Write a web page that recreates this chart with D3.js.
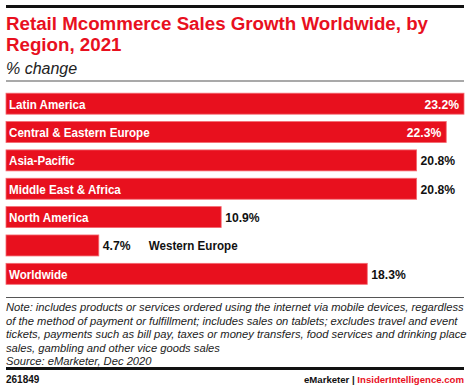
<!doctype html>
<html>
<head>
<script src="https://d3js.org/d3.v7.min.js"></script>
<style>
  body { margin: 0; background: #fff; }
  svg text { font-family: "Liberation Sans", Arial, sans-serif; }
</style>
</head>
<body>
<script>
  const regions = ["Latin America", "Central & Eastern Europe", "Asia-Pacific",
                   "Middle East & Africa", "North America", "Western Europe", "Worldwide"];
  const growth = [23.2, 22.3, 20.8, 20.8, 10.9, 4.7, 18.3];
  const noteLines = [
    "Note: includes products or services ordered using the internet via mobile devices, regardless",
    "of the method of payment or fulfillment; includes sales on tablets; excludes travel and event",
    "tickets, payments such as bill pay, taxes or money transfers, food services and drinking place",
    "sales, gambling and other vice goods sales",
    "Source: eMarketer, Dec 2020"
  ];

  const W = 470, H = 388, red = "#e8101e";
  const svg = d3.select("body").append("svg").attr("width", W).attr("height", H);

  // squeeze text horizontally a bit, the original font is narrower than Arial
  function condense(sel, k) {
    sel.each(function () {
      const w = this.getComputedTextLength();
      d3.select(this).attr("textLength", w * k).attr("lengthAdjust", "spacingAndGlyphs");
    });
  }

  // header
  svg.append("rect").attr("x", 6).attr("y", 5).attr("width", 458).attr("height", 3).attr("fill", "#111");
  const t1 = svg.append("text").attr("x", 6).attr("y", 30).attr("fill", red)
     .attr("font-size", 18).attr("font-weight", "bold").text("Retail Mcommerce Sales Growth Worldwide, by");
  const t2 = svg.append("text").attr("x", 6).attr("y", 51).attr("fill", red)
     .attr("font-size", 18).attr("font-weight", "bold").text("Region, 2021");
  condense(t1, 1.04); condense(t2, 1.04);
  svg.append("text").attr("x", 6).attr("y", 74).attr("fill", "#222")
     .attr("font-size", 16).attr("font-style", "italic").text("% change");
  svg.append("rect").attr("x", 6).attr("y", 80.5).attr("width", 458).attr("height", 1).attr("fill", "#555");

  // bars
  const x = d3.scaleLinear().domain([0, 23.2]).range([6, 464]);
  const y = d3.scaleBand().domain(regions).range([89.5, 288]).paddingInner(0.26).paddingOuter(0.13);

  const data = regions.map((r, i) => ({ r, v: growth[i] }));
  const g = svg.selectAll("g.bar").data(data).enter().append("g").attr("class", "bar");

  g.append("rect")
   .attr("x", x(0)).attr("y", d => y(d.r))
   .attr("width", d => x(d.v) - x(0)).attr("height", y.bandwidth())
   .attr("fill", red).attr("stroke", "#f46a72").attr("stroke-width", 0.8);

  const labelFits = d => d.v > 6;
  g.append("text")
   .attr("x", d => labelFits(d) ? 9 : x(d.v) + 50)
   .attr("y", d => y(d.r) + y.bandwidth() / 2).attr("dy", "0.36em")
   .attr("font-size", 13.5).attr("font-weight", "bold")
   .attr("fill", d => labelFits(d) ? "#fff" : "#111")
   .text(d => d.r)
   .call(condense, 0.86);

  const inside = d => d.v > 22;
  g.append("text")
   .attr("x", d => inside(d) ? x(d.v) - 5 : x(d.v) + 4)
   .attr("y", d => y(d.r) + y.bandwidth() / 2).attr("dy", "0.36em")
   .attr("text-anchor", d => inside(d) ? "end" : "start")
   .attr("font-size", 13.5).attr("font-weight", "bold")
   .attr("fill", d => inside(d) ? "#fff" : "#111")
   .text(d => d.v.toFixed(1) + "%")
   .call(condense, 0.9);

  // footer
  svg.append("rect").attr("x", 6).attr("y", 297).attr("width", 458).attr("height", 1).attr("fill", "#555");
  svg.selectAll("text.note").data(noteLines).enter().append("text").attr("class", "note")
     .attr("x", 6).attr("y", (d, i) => 311 + i * 13.6)
     .attr("font-size", 11.2).attr("font-style", "italic").attr("fill", "#222")
     .text(d => d);
  svg.append("rect").attr("x", 6).attr("y", 367).attr("width", 458).attr("height", 3).attr("fill", "#111");
  svg.append("text").attr("x", 6).attr("y", 383).attr("font-size", 10).attr("font-weight", "bold")
     .attr("fill", "#111").text("261849");
  const brand = svg.append("text").attr("x", 464).attr("y", 383).attr("text-anchor", "end")
     .attr("font-size", 9.6).attr("font-weight", "bold");
  brand.append("tspan").attr("fill", "#111").text("eMarketer  |  ");
  brand.append("tspan").attr("fill", red).text("InsiderIntelligence.com");
</script>
</body>
</html>
